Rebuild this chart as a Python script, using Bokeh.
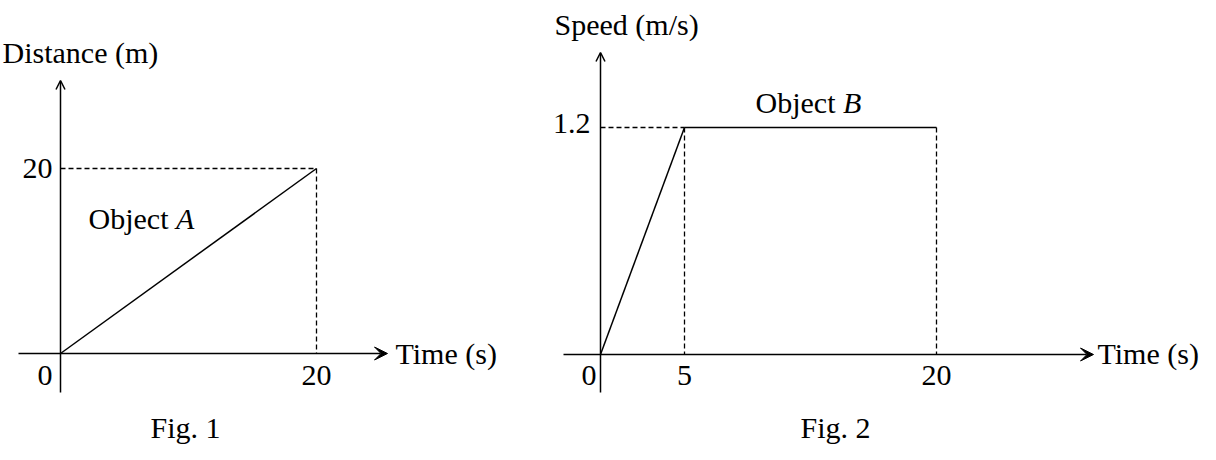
from bokeh.plotting import figure
from bokeh.layouts import row
from bokeh.models import Range1d, Arrow, VeeHead, OpenHead
from bokeh.core.properties import value
from bokeh.embed import file_html
from bokeh.resources import INLINE

# ---------------- data ----------------
# Fig. 1 : Object A, distance-time
time_A = [0, 20]
dist_A = [0, 20]
xticks_A = [0, 20]
yticks_A = [20]
xtick_labels_A = ["0", "20"]
ytick_labels_A = ["20"]

# Fig. 2 : Object B, speed-time
time_B = [0, 5, 20]
speed_B = [0, 1.2, 1.2]
xticks_B = [0, 5, 20]
yticks_B = [1.2]
xtick_labels_B = ["0", "5", "20"]
ytick_labels_B = ["1.2"]

# ---------------- layout ----------------
H = 444
TOP = 0
FONT = value("Liberation Serif")
FS = "30px"
BASE_FIX = -10   # compensate the svg alphabetic-baseline drop


class Panel:
    def __init__(self, left, width, ox, oy, sx, sy):
        self.left, self.width = left, width
        self.ox, self.oy, self.sx, self.sy = ox, oy, sx, sy

    def x(self, px):
        return (px - self.ox) / self.sx

    def y(self, py):
        return (self.oy - py) / self.sy

    def fig(self):
        p = figure(width=self.width, height=H, output_backend="svg",
                   toolbar_location=None, min_border=0,
                   x_range=Range1d(self.x(self.left), self.x(self.left + self.width)),
                   y_range=Range1d(self.y(TOP + H), self.y(TOP)))
        p.axis.visible = False
        p.grid.visible = False
        p.outline_line_color = None
        p.background_fill_color = "white"
        p.border_fill_color = "white"
        return p


def txt(p, x, y, s, align="left", style="normal", xo=0, yo=0):
    p.text(x=[x], y=[y], text=[s], text_font=FONT, text_font_size=FS,
           text_font_style=style, text_align=align, text_baseline="alphabetic",
           text_color="black", x_offset=xo, y_offset=yo + BASE_FIX)


def axes(p, P, x0, x1, y0, y1):
    p.add_layout(Arrow(end=VeeHead(size=13, fill_color="black", line_color="black"),
                       x_start=P.x(x0), y_start=0, x_end=P.x(x1), y_end=0,
                       line_color="black", line_width=1.5))
    p.add_layout(Arrow(end=OpenHead(size=9, line_color="black", line_width=1.5),
                       x_start=0, y_start=P.y(y0), x_end=0, y_end=P.y(y1),
                       line_color="black", line_width=1.5))


DASH = "5 3"

# ---------- Fig. 1 ----------
P1 = Panel(0, 540, 60, 353, (316 - 60) / 20, (353 - 168) / 20)
p1 = P1.fig()
axes(p1, P1, 18, 387, 392, 80)
p1.line(time_A, dist_A, line_color="black", line_width=1.5)
p1.line([0, time_A[-1]], [dist_A[-1], dist_A[-1]], line_color="black",
        line_width=1.3, line_dash=DASH)
p1.line([time_A[-1], time_A[-1]], [dist_A[-1], 0], line_color="black",
        line_width=1.3, line_dash=DASH)
for v, lab in zip(xticks_A, xtick_labels_A):
    if v == 0:
        txt(p1, v, 0, lab, align="right", xo=-8, yo=32)
    else:
        txt(p1, v, 0, lab, align="center", yo=32)
for v, lab in zip(yticks_A, ytick_labels_A):
    txt(p1, 0, v, lab, align="right", xo=-8, yo=10)
txt(p1, P1.x(2), P1.y(62), "Distance (m)")
txt(p1, P1.x(395), 0, "Time (s)", yo=10)
txt(p1, P1.x(88), P1.y(228), "Object")
txt(p1, P1.x(175.5), P1.y(228), "A", style="italic")
txt(p1, P1.x(150), P1.y(437), "Fig. 1")

# ---------- Fig. 2 ----------
P2 = Panel(540, 660, 600, 354, (936 - 600) / 20, (354 - 127) / 1.2)
p2 = P2.fig()
axes(p2, P2, 563, 1093, 392, 52)
p2.line(time_B[:2], speed_B[:2], line_color="black", line_width=1.5)
p2.line(time_B[1:], speed_B[1:], line_color="black", line_width=1.5)
p2.line([0, time_B[1]], [speed_B[1], speed_B[1]], line_color="black",
        line_width=1.3, line_dash=DASH)
for t in time_B[1:]:
    p2.line([t, t], [speed_B[1], 0], line_color="black", line_width=1.3,
            line_dash=DASH)
for v, lab in zip(xticks_B, xtick_labels_B):
    if v == 0:
        txt(p2, v, 0, lab, align="right", xo=-4, yo=31)
    else:
        txt(p2, v, 0, lab, align="center", yo=31)
for v, lab in zip(yticks_B, ytick_labels_B):
    txt(p2, 0, v, lab, align="right", xo=-10, yo=6)
txt(p2, P2.x(554), P2.y(34), "Speed (m/s)")
txt(p2, P2.x(1097), 0, "Time (s)", yo=9)
txt(p2, P2.x(755), P2.y(112), "Object")
txt(p2, P2.x(842.5), P2.y(112), "B", style="italic")
txt(p2, P2.x(800), P2.y(437), "Fig. 2")

layout = row(p1, p2, spacing=0)
open("out.html", "w").write(file_html(layout, INLINE))
